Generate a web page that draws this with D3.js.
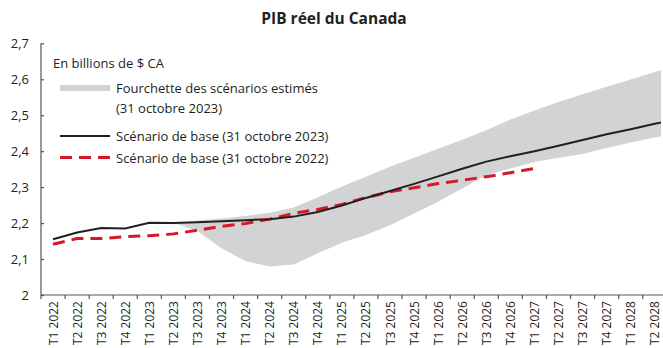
<!DOCTYPE html>
<html lang="fr">
<head>
<meta charset="utf-8">
<script src="https://cdn.jsdelivr.net/npm/d3@7"></script>
<style>
  html, body { margin: 0; padding: 0; background: #fff; }
  svg { display: block; font-family: "Open Sans", "Noto Sans", sans-serif; }
</style>
</head>
<body>
<svg id="chart" width="663" height="348"></svg>
<script>
// Trimestres (le dernier déborde du cadre à droite)
const quarters = [
  "T1 2022","T2 2022","T3 2022","T4 2022",
  "T1 2023","T2 2023","T3 2023","T4 2023",
  "T1 2024","T2 2024","T3 2024","T4 2024",
  "T1 2025","T2 2025","T3 2025","T4 2025",
  "T1 2026","T2 2026","T3 2026","T4 2026",
  "T1 2027","T2 2027","T3 2027","T4 2027",
  "T1 2028","T2 2028","T3 2028"
];

// Scénario de base (31 octobre 2023), en billions de $ CA
const base2023 = [
  2.155, 2.174, 2.186, 2.185,
  2.201, 2.200, 2.202, 2.205,
  2.208, 2.211, 2.218, 2.231,
  2.249, 2.270, 2.289, 2.309,
  2.330, 2.351, 2.371, 2.386,
  2.400, 2.415, 2.431, 2.447,
  2.461, 2.476, 2.490
];

// Scénario de base (31 octobre 2022), jusqu'au T1 2027
const base2022 = [
  2.141, 2.157, 2.157, 2.162,
  2.165, 2.170, 2.180, 2.191,
  2.199, 2.211, 2.227, 2.238,
  2.252, 2.271, 2.287, 2.298,
  2.310, 2.319, 2.329, 2.340,
  2.352
];

// Fourchette des scénarios estimés : bornes inférieure et supérieure (à partir du T2 2023)
const rangeLow = [
  null, null, null, null,
  null, 2.200, 2.178, 2.130,
  2.094, 2.079, 2.085, 2.116,
  2.145, 2.167, 2.194, 2.227,
  2.259, 2.296, 2.333, 2.352,
  2.370, 2.382, 2.392, 2.409,
  2.424, 2.438, 2.452
];
const rangeHigh = [
  null, null, null, null,
  null, 2.200, 2.207, 2.213,
  2.220, 2.229, 2.243, 2.272,
  2.302, 2.329, 2.357, 2.382,
  2.407, 2.432, 2.458, 2.488,
  2.513, 2.537, 2.558, 2.579,
  2.599, 2.620, 2.640
];

const yTicks = [2, 2.1, 2.2, 2.3, 2.4, 2.5, 2.6, 2.7];

const colors = { band: "#d1d3d4", base2023: "#231f20", base2022: "#d7182a", axis: "#555", text: "#231f20" };

const W = 663, H = 348;
const plotLeft = 41, plotBottom = 295, plotTop = 43.3, step = 24.07, plotRight = 661;

const svg = d3.select("#chart");

const x = d3.scaleBand()
  .domain(quarters)
  .range([plotLeft, plotLeft + step * quarters.length])
  .padding(0);
const xc = q => x(q) + x.bandwidth() / 2;

const y = d3.scaleLinear().domain([2, 2.7]).range([plotBottom, plotTop]);

const fmt = v => d3.format(".1~f")(v).replace(".", ",");

// Zone de tracé découpée au bord droit
svg.append("clipPath").attr("id", "plot-clip")
  .append("rect").attr("x", plotLeft).attr("y", 0).attr("width", plotRight - plotLeft).attr("height", plotBottom);

const plot = svg.append("g").attr("clip-path", "url(#plot-clip)");

// Fourchette des scénarios
const bandData = quarters.map((q, i) => ({ q, lo: rangeLow[i], hi: rangeHigh[i] }))
  .filter(d => d.lo != null);
plot.append("path")
  .datum(bandData)
  .attr("fill", colors.band)
  .attr("d", d3.area().x(d => xc(d.q)).y0(d => y(d.lo)).y1(d => y(d.hi)));

// Scénario 2022 (tirets rouges)
plot.append("path")
  .datum(base2022.map((v, i) => ({ q: quarters[i], v })))
  .attr("fill", "none")
  .attr("stroke", colors.base2022)
  .attr("stroke-width", 3)
  .attr("stroke-dasharray", "12,7")
  .attr("d", d3.line().x(d => xc(d.q)).y(d => y(d.v)));

// Scénario 2023 (trait noir)
plot.append("path")
  .datum(base2023.map((v, i) => ({ q: quarters[i], v })))
  .attr("fill", "none")
  .attr("stroke", colors.base2023)
  .attr("stroke-width", 2)
  .attr("d", d3.line().x(d => xc(d.q)).y(d => y(d.v)));

// Axe vertical
const yAxis = svg.append("g").attr("transform", `translate(${plotLeft},0)`)
  .call(d3.axisRight(y).tickValues(yTicks).tickSize(3).tickFormat(""));
yAxis.select(".domain").attr("stroke", colors.axis).attr("stroke-width", 1.2).attr("d", `M0,${y(2.7)}H0V${plotBottom}`);
yAxis.selectAll(".tick line").attr("stroke", colors.axis).attr("stroke-width", 1.2);

svg.append("g").selectAll("text")
  .data(yTicks)
  .join("text")
  .attr("x", 29)
  .attr("y", d => y(d))
  .attr("text-anchor", "end")
  .attr("dominant-baseline", "central")
  .attr("font-size", 13)
  .attr("fill", colors.text)
  .text(fmt);

// Axe horizontal : traits aux limites des trimestres
const visibleQuarters = quarters.filter(q => xc(q) < W);
const xAxis = svg.append("g");
xAxis.append("line")
  .attr("x1", plotLeft).attr("x2", W)
  .attr("y1", plotBottom).attr("y2", plotBottom)
  .attr("stroke", colors.axis).attr("stroke-width", 1.2);
xAxis.selectAll("line.tick")
  .data(visibleQuarters)
  .join("line")
  .attr("class", "tick")
  .attr("x1", d => x(d)).attr("x2", d => x(d))
  .attr("y1", plotBottom).attr("y2", plotBottom + 4)
  .attr("stroke", colors.axis).attr("stroke-width", 1.2);
xAxis.selectAll("text")
  .data(visibleQuarters)
  .join("text")
  .attr("transform", d => `translate(${xc(d)},${plotBottom + 6}) rotate(-90)`)
  .attr("text-anchor", "end")
  .attr("dominant-baseline", "central")
  .attr("font-size", 12)
  .attr("fill", colors.text)
  .text(d => d);

// Titre
svg.append("text")
  .attr("x", 334).attr("y", 24)
  .attr("text-anchor", "middle")
  .attr("font-size", 15.5)
  .attr("font-weight", 700)
  .attr("fill", colors.text)
  .text("PIB réel du Canada");

// Légende
const lg = svg.append("g").attr("font-size", 13).attr("fill", colors.text);
lg.append("text").attr("x", 53).attr("y", 63).attr("dominant-baseline", "central")
  .text("En billions de $ CA");

lg.append("line").attr("x1", 60).attr("x2", 110).attr("y1", 88).attr("y2", 88)
  .attr("stroke", colors.band).attr("stroke-width", 6);
lg.append("text").attr("x", 116).attr("y", 88).attr("dominant-baseline", "central")
  .text("Fourchette des scénarios estimés");
lg.append("text").attr("x", 116).attr("y", 108).attr("dominant-baseline", "central")
  .text("(31 octobre 2023)");

lg.append("line").attr("x1", 60).attr("x2", 110).attr("y1", 136).attr("y2", 136)
  .attr("stroke", colors.base2023).attr("stroke-width", 2);
lg.append("text").attr("x", 116).attr("y", 136).attr("dominant-baseline", "central")
  .text("Scénario de base (31 octobre 2023)");

lg.append("line").attr("x1", 60).attr("x2", 110).attr("y1", 157.5).attr("y2", 157.5)
  .attr("stroke", colors.base2022).attr("stroke-width", 3).attr("stroke-dasharray", "12,7");
lg.append("text").attr("x", 116).attr("y", 157.5).attr("dominant-baseline", "central")
  .text("Scénario de base (31 octobre 2022)");
</script>
</body>
</html>
